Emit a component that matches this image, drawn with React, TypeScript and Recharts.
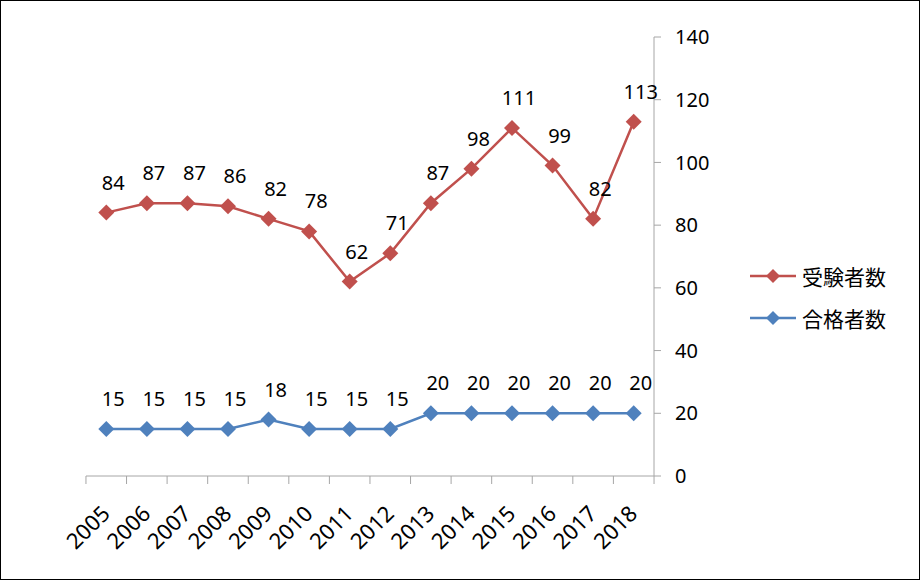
import React from 'react';
import { LineChart, Line, XAxis, YAxis, Legend, LabelList } from 'recharts';

const YEARS = ['2005', '2006', '2007', '2008', '2009', '2010', '2011', '2012', '2013', '2014', '2015', '2016', '2017', '2018'];
const EXAMINEES = [84, 87, 87, 86, 82, 78, 62, 71, 87, 98, 111, 99, 82, 113];
const PASSED = [15, 15, 15, 15, 18, 15, 15, 15, 20, 20, 20, 20, 20, 20];
const Y_TICKS = [0, 20, 40, 60, 80, 100, 120, 140];

const SERIES = [
  { key: 'examinees', label: '受験者数', color: '#c0504d' },
  { key: 'passed', label: '合格者数', color: '#4f81bd' },
];

const data = YEARS.map((y, i) => ({ year: y, examinees: EXAMINEES[i], passed: PASSED[i] }));

const FONT = "'Noto Sans', 'Noto Sans CJK JP', sans-serif";
const AXIS = '#a6a6a6';
const W = 920;
const H = 580;
const PLOT_LEFT = 86;
const PLOT_RIGHT = 655;
const BAND = (PLOT_RIGHT - PLOT_LEFT) / YEARS.length;
const MARK = 8;

const diamond = (color) => (props) => {
  const { cx, cy, index } = props;
  if (cx == null || cy == null) return <g key={index} />;
  return (
    <polygon
      key={index}
      points={`${cx},${cy - MARK} ${cx + MARK},${cy} ${cx},${cy + MARK} ${cx - MARK},${cy}`}
      fill={color}
    />
  );
};

const XTick = ({ x, y, payload, index }) => {
  const left = x - BAND / 2;
  return (
    <g>
      <line x1={left} x2={left} y1={y - 8} y2={y} stroke={AXIS} />
      {index === YEARS.length - 1 && (
        <line x1={x + BAND / 2} x2={x + BAND / 2} y1={y - 8} y2={y} stroke={AXIS} />
      )}
      <text
        x={x + 5}
        y={y + 31}
        transform={`rotate(-45, ${x + 5}, ${y + 31})`}
        textAnchor="end"
        fontSize={22}
        fontFamily={FONT}
        fill="#000"
      >
        {payload.value}
      </text>
    </g>
  );
};

const ValueLabel = ({ x, y, value }) => (
  <text x={x + 7} y={y - 23} textAnchor="middle" fontSize={20} fontFamily={FONT} fill="#000">
    {value}
  </text>
);

const LegendBox = () => (
  <div style={{ fontFamily: FONT }}>
    {SERIES.map((s) => (
      <div key={s.key} style={{ display: 'flex', alignItems: 'center', height: 42 }}>
        <svg width={52} height={20}>
          <line x1={0} x2={46} y1={10} y2={10} stroke={s.color} strokeWidth={2.5} />
          <polygon points="23,3 30,10 23,17 16,10" fill={s.color} />
        </svg>
        <span style={{ fontSize: 21, color: '#000' }}>{s.label}</span>
      </div>
    ))}
  </div>
);

export default function App() {
  return (
    <div style={{ position: 'absolute', left: 0, top: 0, width: W, height: H, border: '1px solid #000', boxSizing: 'border-box', background: '#fff' }}>
      <LineChart
        width={W - 2}
        height={H - 2}
        data={data}
        margin={{ top: 36, right: 35, bottom: 3, left: PLOT_LEFT - 1 }}
        style={{ fontFamily: FONT }}
      >
        <XAxis
          dataKey="year"
          scale="band"
          stroke={AXIS}
          tickLine={false}
          tickSize={8}
          tickMargin={0}
          height={100}
          interval={0}
          tick={<XTick />}
        />
        <YAxis
          orientation="right"
          domain={[0, 140]}
          ticks={Y_TICKS}
          stroke={AXIS}
          tickSize={7}
          tickMargin={14}
          width={70}
          tick={{ fill: '#000', fontSize: 20, fontFamily: FONT }}
        />
        <Legend
          layout="vertical"
          align="right"
          verticalAlign="middle"
          content={<LegendBox />}
          wrapperStyle={{ position: 'absolute', left: 749, top: 254, width: 160 }}
        />
        {SERIES.map((s) => (
          <Line
            key={s.key}
            dataKey={s.key}
            name={s.label}
            stroke={s.color}
            strokeWidth={2.5}
            dot={diamond(s.color)}
            activeDot={false}
            isAnimationActive={false}
          >
            <LabelList dataKey={s.key} content={<ValueLabel />} />
          </Line>
        ))}
      </LineChart>
    </div>
  );
}
